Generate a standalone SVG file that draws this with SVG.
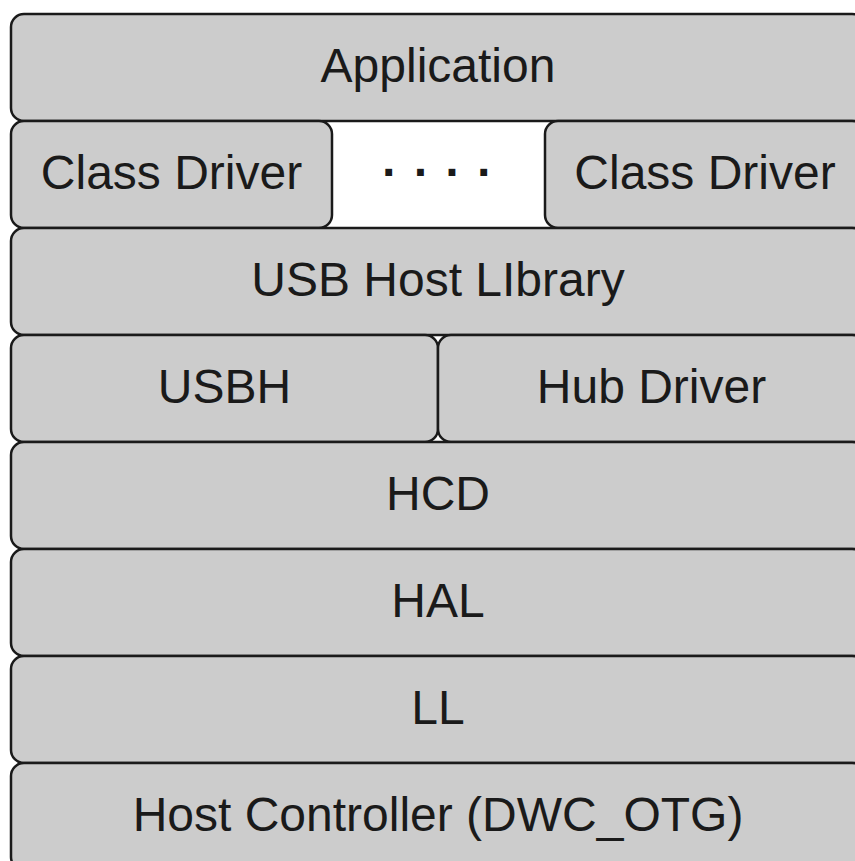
<svg xmlns="http://www.w3.org/2000/svg" width="855" height="861" viewBox="0 0 855 861">
<style>
rect.b{fill:#cccccc;stroke:#1a1a1a;stroke-width:2.5}
text{font-family:"Liberation Sans",Arial,sans-serif;font-size:48px;fill:#1a1a1a;text-anchor:middle}
</style>
<rect width="855" height="861" fill="#ffffff"/>
<g id="application"><rect class="b" x="11" y="14" width="854" height="107" rx="13"/><text x="438" y="82">Application</text></g>
<g id="class-driver-1"><rect class="b" x="11" y="121" width="321" height="107" rx="13"/><text x="171.5" y="189">Class Driver</text></g>
<g id="ellipsis"><text x="390 421.7 453.3 485" y="189" font-weight="bold">····</text></g>
<g id="class-driver-2"><rect class="b" x="545" y="121" width="320" height="107" rx="13"/><text x="705" y="189">Class Driver</text></g>
<g id="usb-host-library"><rect class="b" x="11" y="228" width="854" height="107" rx="13"/><text x="438" y="296">USB Host LIbrary</text></g>
<g id="usbh"><rect class="b" x="11" y="335" width="427" height="107" rx="13"/><text x="224.5" y="403">USBH</text></g>
<g id="hub-driver"><rect class="b" x="438" y="335" width="427" height="107" rx="13"/><text x="651.5" y="403">Hub Driver</text></g>
<g id="hcd"><rect class="b" x="11" y="442" width="854" height="107" rx="13"/><text x="438" y="510">HCD</text></g>
<g id="hal"><rect class="b" x="11" y="549" width="854" height="107" rx="13"/><text x="438" y="617">HAL</text></g>
<g id="ll"><rect class="b" x="11" y="656" width="854" height="107" rx="13"/><text x="438" y="724">LL</text></g>
<g id="host-controller"><rect class="b" x="11" y="763" width="854" height="107" rx="13"/><text x="438" y="831">Host Controller (DWC_OTG)</text></g>
<g id="connectors"/>
</svg>
